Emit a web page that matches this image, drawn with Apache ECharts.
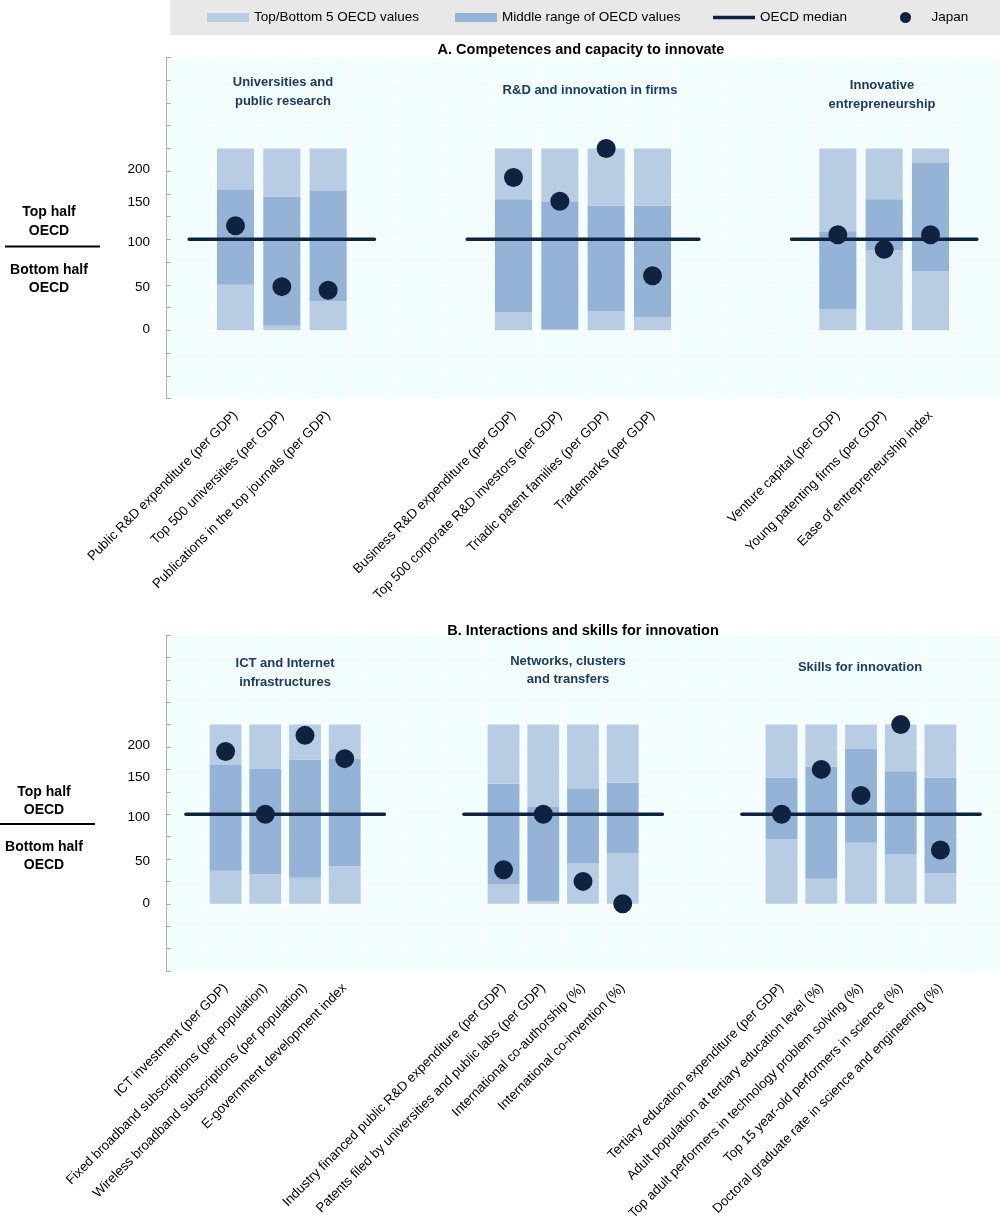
<!DOCTYPE html>
<html>
<head>
<meta charset="utf-8">
<script src="https://cdn.jsdelivr.net/npm/echarts@6/dist/echarts.min.js"></script>
<style>
html,body{margin:0;padding:0;background:#fff;}
#chart{width:1000px;height:1220px;}
</style>
</head>
<body>
<div id="chart"></div>
<script>
// ---------- DATA ----------
const SERIES_NAMES = ['Top/Bottom 5 OECD values', 'Middle range of OECD values', 'OECD median', 'Japan'];
const TOP_VALUE = 200;     // top of the Top/Bottom 5 band
const MEDIAN = 100;        // OECD median (normalised)

// Panel A
const catsA = ['', 'Public R&D expenditure (per GDP)', 'Top 500 universities (per GDP)', 'Publications in the top journals (per GDP)', '', '', '',
  'Business R&D expenditure (per GDP)', 'Top 500 corporate R&D investors (per GDP)', 'Triadic patent families (per GDP)', 'Trademarks (per GDP)', '', '', '',
  'Venture capital (per GDP)', 'Young patenting firms (per GDP)', 'Ease of entrepreneurship index', ''];
const lowA   = [null, 50, 5, 32, null, null, null, 20, 1.5, 21, 14, null, null, null, 23, 88, 65, null];
const highA  = [null, 155, 147, 154, null, null, null, 144, 141, 137, 137, null, null, null, 109, 144, 184, null];
const japanA = [null, 115, 48, 44, null, null, null, 168, 142, 200, 60, null, null, null, 105, 89, 105, null];

// Panel B
const catsB = ['', 'ICT investment (per GDP)', 'Fixed broadband subscriptions (per population)', 'Wireless broadband subscriptions (per population)', 'E-government development index', '', '', '',
  'Industry financed public R&D expenditure (per GDP)', 'Patents filed by universities and public labs (per GDP)', 'International co-authorship (%)', 'International co-invention (%)', '', '', '',
  'Tertiary education expenditure (per GDP)', 'Adult population at tertiary education level (%)', 'Top adult performers in technology problem solving (%)', 'Top 15 year-old performers in science (%)', 'Doctoral graduate rate in science and engineering (%)', ''];
const lowB   = [null, 37, 33, 29, 42, null, null, null, 22, 3, 45, 56, null, null, null, 72, 28, 68, 55, 34, null];
const highB  = [null, 155, 151, 161, 162, null, null, null, 134, 108, 129, 135, null, null, null, 141, 153, 173, 148, 141, null];
const japanB = [null, 170, 100, 188, 162, null, null, null, 38, 100, 25, 0, null, null, null, 100, 150, 121, 200, 60, null];

// Y-axis tick labels as printed (tick value -> text)
const yLabelTicks = [0, 50, 100, 150, 175];
const yLabelTexts = ['0', '50', '100', '150', '200'];

// Titles
const panelTitles = ['A. Competences and capacity to innovate', 'B. Interactions and skills for innovation'];
const groupTitlesA = [['Universities and', 'public research'], ['R&D and innovation in firms'], ['Innovative', 'entrepreneurship']];
const groupTitlesB = [['ICT and Internet', 'infrastructures'], ['Networks, clusters', 'and transfers'], ['Skills for innovation']];

// ---------- STYLE ----------
const FONT = "'Liberation Sans',Arial,sans-serif";
const LIGHT = '#b8cce4', MID = '#95b3d7', NAVY = '#0f2341', SUB = '#1f3a60', BG = '#f2fdfd';
const yShift = {0: -1, 50: 2, 100: 3, 150: 8, 175: -2};

const rich = {};
yLabelTicks.forEach(v => {
  const s = yShift[v] || 0;
  rich['s' + v] = {fontFamily: FONT, fontSize: 13.5, color: '#000',
    padding: s >= 0 ? [2 * s, 0, 0, 0] : [0, 0, -2 * s, 0]};
});

function panel(i, cats, low, high, japan, top, height) {
  const has = k => k >= 0 && k < low.length && low[k] != null;
  const grid = {left: 166, right: 0, top: top, height: height, show: true, backgroundColor: BG, borderWidth: 0,
    containLabel: false, outerBoundsMode: 'none'};
  const xAxis = {type: 'category', gridIndex: i, data: cats,
    axisLine: {show: false}, axisTick: {show: false},
    splitLine: {show: true, lineStyle: {color: '#ffffff', width: 1}},
    axisLabel: {interval: 0, rotate: 45, margin: 15, fontFamily: FONT, fontSize: 13.3, color: '#000', hideOverlap: false}};
  const yAxis = {type: 'value', gridIndex: i, min: -75, max: 300, interval: 25,
    axisLine: {show: true, lineStyle: {color: '#b0b0b0'}},
    axisTick: {show: true, inside: true, length: 5, lineStyle: {color: '#b0b0b0'}},
    splitLine: {show: true, lineStyle: {color: '#ffffff', width: 1}},
    axisLabel: {margin: 16, rich: rich, fontFamily: FONT, fontSize: 13.5, color: '#000',
      formatter: v => { const k = yLabelTicks.indexOf(v); return k < 0 ? '' : '{s' + v + '|' + yLabelTexts[k] + '}'; }}};
  const stack = 'st' + i;
  const series = [
    {name: SERIES_NAMES[0], type: 'bar', xAxisIndex: i, yAxisIndex: i, stack: stack, barCategoryGap: '20%',
      itemStyle: {color: LIGHT}, data: low.map(v => v == null ? '-' : v), silent: true},
    {name: SERIES_NAMES[1], type: 'bar', xAxisIndex: i, yAxisIndex: i, stack: stack, barCategoryGap: '20%',
      itemStyle: {color: MID}, data: low.map((v, k) => v == null ? '-' : high[k] - v), silent: true},
    {name: SERIES_NAMES[0], type: 'bar', xAxisIndex: i, yAxisIndex: i, stack: stack, barCategoryGap: '20%',
      itemStyle: {color: LIGHT}, data: high.map(v => v == null ? '-' : TOP_VALUE - v), silent: true},
    {name: SERIES_NAMES[2], type: 'line', xAxisIndex: i, yAxisIndex: i, symbol: 'none', z: 3,
      lineStyle: {color: NAVY, width: 3.5, cap: 'round'}, itemStyle: {color: NAVY},
      data: cats.map((c, k) => (has(k - 1) || has(k) || has(k + 1)) ? MEDIAN : '-'), connectNulls: false, silent: true},
    {name: SERIES_NAMES[3], type: 'scatter', xAxisIndex: i, yAxisIndex: i, symbol: 'circle', symbolSize: 19, z: 4,
      itemStyle: {color: NAVY, opacity: 1},
      data: japan.map((v, k) => v == null ? null : [k, v]).filter(d => d), silent: true}
  ];
  return {grid, xAxis, yAxis, series};
}

const GA = {top: 57.5, height: 341};
const GB = {top: 635, height: 336};
const pA = panel(0, catsA, lowA, highA, japanA, GA.top, GA.height);
const pB = panel(1, catsB, lowB, highB, japanB, GB.top, GB.height);

function txt(text, x, y, font, fill, align) {
  return {type: 'text', silent: true, z: 100, style: {text: text, x: x, y: y, font: font, fill: fill || '#000',
    textAlign: align || 'center', textVerticalAlign: 'middle'}};
}
const BOLDT = 'bold 14.5px ' + FONT, BOLDH = 'bold 14px ' + FONT, BOLDS = 'bold 13px ' + FONT;

const graphics = [
  {type: 'rect', silent: true, z: -10, shape: {x: 170, y: 0, width: 830, height: 35}, style: {fill: '#e8e8e8'}},
  txt(panelTitles[0], 581, 50, BOLDT),
  txt(panelTitles[1], 583, 631, BOLDT),
  // panel A group titles
  txt(groupTitlesA[0][0], 283, 82, BOLDS, SUB), txt(groupTitlesA[0][1], 283, 101, BOLDS, SUB),
  txt(groupTitlesA[1][0], 590, 90, BOLDS, SUB),
  txt(groupTitlesA[2][0], 882, 85, BOLDS, SUB), txt(groupTitlesA[2][1], 882, 104, BOLDS, SUB),
  // panel B group titles
  txt(groupTitlesB[0][0], 285, 663, BOLDS, SUB), txt(groupTitlesB[0][1], 285, 682, BOLDS, SUB),
  txt(groupTitlesB[1][0], 568, 661, BOLDS, SUB), txt(groupTitlesB[1][1], 568, 679, BOLDS, SUB),
  txt(groupTitlesB[2][0], 860, 667, BOLDS, SUB),
  // Top half / Bottom half (A)
  txt('Top half', 49, 212, BOLDH), txt('OECD', 49, 231, BOLDH),
  {type: 'line', silent: true, z: 100, shape: {x1: 5, y1: 246.5, x2: 100, y2: 246.5}, style: {stroke: '#000', lineWidth: 2}},
  txt('Bottom half', 49, 270, BOLDH), txt('OECD', 49, 288, BOLDH),
  // Top half / Bottom half (B)
  txt('Top half', 44, 792, BOLDH), txt('OECD', 44, 810, BOLDH),
  {type: 'line', silent: true, z: 100, shape: {x1: 0, y1: 824, x2: 95, y2: 824}, style: {stroke: '#000', lineWidth: 2}},
  txt('Bottom half', 44, 847, BOLDH), txt('OECD', 44, 865, BOLDH)
];

function leg(name, left, icon, h) {
  return {data: [{name: name, icon: icon}], left: left, top: 17.5 - 10, padding: 0, itemWidth: 42, itemHeight: h || 9,
    itemGap: 0, selectedMode: false,
    textStyle: {fontFamily: FONT, fontSize: 13.5, color: '#000', lineHeight: 20}};
}

const option = {
  animation: false,
  backgroundColor: '#ffffff',
  textStyle: {fontFamily: FONT},
  legend: [
    leg(SERIES_NAMES[0], 207, 'rect'),
    leg(SERIES_NAMES[1], 455, 'rect'),
    leg(SERIES_NAMES[2], 713, 'rect', 3.5),
    leg(SERIES_NAMES[3], 900, 'circle', 11)
  ],
  grid: [pA.grid, pB.grid],
  xAxis: [pA.xAxis, pB.xAxis],
  yAxis: [pA.yAxis, pB.yAxis],
  series: pA.series.concat(pB.series),
  graphic: graphics
};

const chart = echarts.init(document.getElementById('chart'), null, {renderer: 'canvas'});
chart.setOption(option);
</script>
</body>
</html>
